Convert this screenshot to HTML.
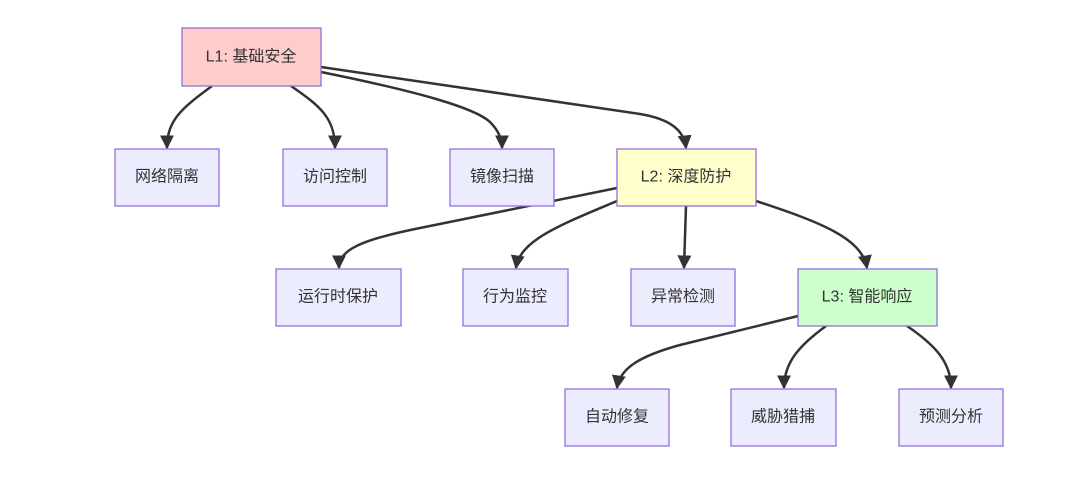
<!DOCTYPE html>
<html><head><meta charset="utf-8"><style>
body{margin:0;background:#fff;width:1088px;height:481px;overflow:hidden}
svg text{font-family:"Liberation Sans","Noto Sans CJK SC",sans-serif;font-size:16px;fill:#333;text-anchor:middle;dominant-baseline:central}
</style></head><body>
<svg width="1088" height="481" viewBox="0 0 1088 481">
<defs><marker id="a" viewBox="0 0 10 10" refX="9" refY="5" markerWidth="8" markerHeight="8" orient="auto" markerUnits="userSpaceOnUse"><path d="M0,0 L10,5 L0,10 z" fill="#333"/></marker>
<marker id="b" viewBox="0 0 10 10" refX="9" refY="5" markerWidth="14" markerHeight="14" orient="auto" markerUnits="userSpaceOnUse"><path d="M0,0 L10,5 L0,10 z" fill="#333"/></marker></defs>
<g fill="none" stroke="#333" stroke-width="2.5" marker-end="url(#b)">
<path d="M212,86 C182,108 167,120 167,148"/>
<path d="M291,86 C320,106 335,118 335,148"/>
<path d="M321,72 C420,92 475,108 490,122 C498,130 502,138 502,148"/>
<path d="M321,67 L640,114 C670,119 684,130 686,148"/>
<path d="M617,188 L420,228 C360,240 339,250 339,268"/>
<path d="M617,201 C560,225 520,240 516,268"/>
<path d="M686,206 L684,268"/>
<path d="M756,201 C820,222 862,238 867,268"/>
<path d="M798,316 L680,345 C640,356 620,368 617,388"/>
<path d="M826,326 C800,345 784,362 784,388"/>
<path d="M907,326 C935,345 951,362 951,388"/>
</g>
<g stroke="#9370db" stroke-width="1.3">
<rect x="182" y="28" width="139" height="58" fill="#ffcccc"/>
<rect x="115" y="149" width="104" height="57" fill="#ececff"/>
<rect x="283" y="149" width="104" height="57" fill="#ececff"/>
<rect x="450" y="149" width="104" height="57" fill="#ececff"/>
<rect x="617" y="149" width="139" height="57" fill="#ffffcc"/>
<rect x="276" y="269" width="125" height="57" fill="#ececff"/>
<rect x="463" y="269" width="105" height="57" fill="#ececff"/>
<rect x="631" y="269" width="104" height="57" fill="#ececff"/>
<rect x="798" y="269" width="139" height="57" fill="#ccffcc"/>
<rect x="565" y="389" width="104" height="57" fill="#ececff"/>
<rect x="731" y="389" width="105" height="57" fill="#ececff"/>
<rect x="899" y="389" width="104" height="57" fill="#ececff"/>
</g>
<text x="251" y="57">L1: 基础安全</text>
<text x="167" y="177">网络隔离</text>
<text x="335" y="177">访问控制</text>
<text x="502" y="177">镜像扫描</text>
<text x="686" y="177">L2: 深度防护</text>
<text x="338" y="297">运行时保护</text>
<text x="515" y="297">行为监控</text>
<text x="683" y="297">异常检测</text>
<text x="867" y="297">L3: 智能响应</text>
<text x="617" y="417">自动修复</text>
<text x="783" y="417">威胁猎捕</text>
<text x="951" y="417">预测分析</text>
</svg>
</body></html>
